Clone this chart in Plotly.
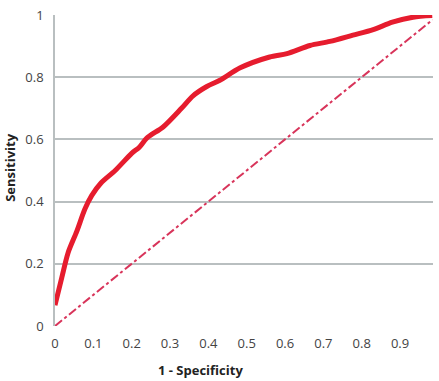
import plotly.graph_objects as go

# ROC curve values
fpr = [0.0, 0.018, 0.034, 0.057, 0.078, 0.096, 0.12, 0.157, 0.2, 0.22, 0.24, 0.282,
       0.33, 0.36, 0.396, 0.43, 0.483, 0.56, 0.605, 0.665, 0.717, 0.777, 0.83, 0.88,
       0.934, 0.984]
tpr = [0.067, 0.157, 0.235, 0.305, 0.376, 0.42, 0.46, 0.50, 0.555, 0.575, 0.605, 0.64,
       0.70, 0.74, 0.77, 0.79, 0.83, 0.865, 0.876, 0.902, 0.915, 0.935, 0.953, 0.977,
       0.993, 0.998]
diag = [0.0, 0.985]
x_ticks = [0, 0.1, 0.2, 0.3, 0.4, 0.5, 0.6, 0.7, 0.8, 0.9]
x_tick_labels = ["0", "0.1", "0.2", "0.3", "0.4", "0.5", "0.6", "0.7", "0.8", "0.9"]
y_ticks = [0, 0.2, 0.4, 0.6, 0.8, 1]
y_tick_labels = ["0", "0.2", "0.4", "0.6", "0.8", "1"]

fig = go.Figure()
fig.add_trace(go.Scatter(x=diag, y=diag, mode="lines",
                         line=dict(color="#d8345a", width=2, dash="dashdot"),
                         showlegend=False))
fig.add_trace(go.Scatter(x=fpr, y=tpr, mode="lines",
                         line=dict(color="#e61c2e", width=5, shape="spline", smoothing=0.8),
                         showlegend=False))

fig.update_layout(
    width=439, height=381,
    margin=dict(l=55, r=6, t=12, b=55),
    paper_bgcolor="white", plot_bgcolor="white",
    font=dict(family="Open Sans", size=13, color="#444444"),
    xaxis=dict(range=[0, 0.986], tickvals=x_ticks, ticktext=x_tick_labels,
               showgrid=False, zeroline=False, showline=False,
               ticks="", ticklabelstandoff=8, tickfont=dict(size=13, color="#444444")),
    yaxis=dict(range=[0, 1], tickvals=y_ticks, ticktext=y_tick_labels,
               showgrid=True, gridcolor="#b9bfc0", gridwidth=1.5,
               zeroline=False, showline=True, linecolor="#b9bfc0", linewidth=1.5,
               ticks="", ticklabelstandoff=7, tickfont=dict(size=13, color="#444444")),
    annotations=[
        dict(text="<b>1 - Specificity</b>", xref="paper", yref="paper",
             x=(200 - 55) / 378, y=(326 - 370) / 314, xanchor="center", yanchor="middle",
             showarrow=False, font=dict(size=13, color="#222222")),
        dict(text="<b>Sensitivity</b>", xref="paper", yref="paper",
             x=-0.118, y=0.51, xanchor="center", yanchor="middle", textangle=-90,
             showarrow=False, font=dict(size=13, color="#222222")),
    ],
)
fig.write_html("out.html")
